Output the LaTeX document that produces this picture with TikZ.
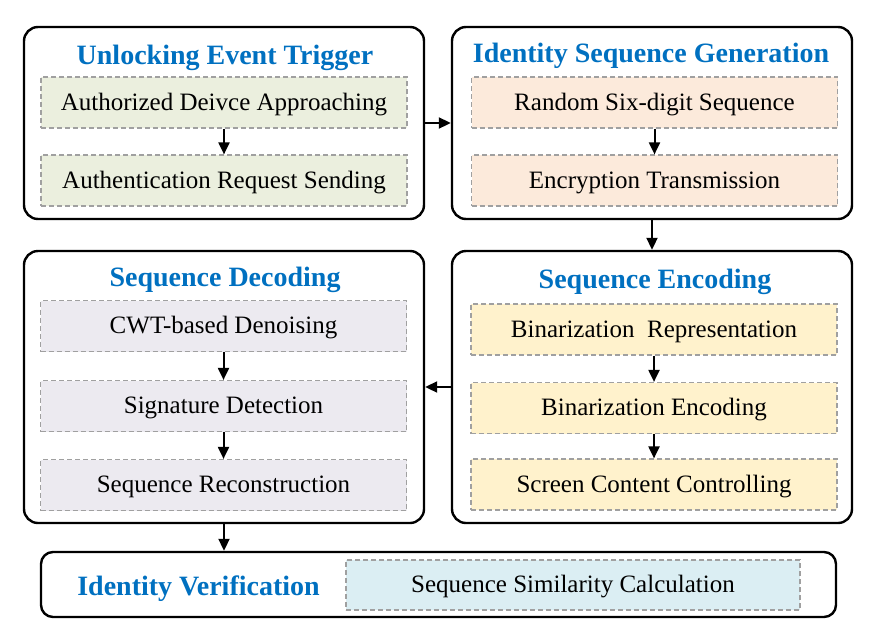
\documentclass[tikz,border=0pt]{standalone}
\usepackage{fontspec}
\setmainfont{Liberation Serif}
\usetikzlibrary{arrows.meta}
\definecolor{tblue}{RGB}{0,112,192}
\definecolor{dashgray}{RGB}{160,160,160}
\definecolor{fgreen}{RGB}{235,239,222}
\definecolor{fpeach}{RGB}{252,234,219}
\definecolor{flav}{RGB}{236,234,240}
\definecolor{fyellow}{RGB}{255,242,204}
\definecolor{fblue}{RGB}{219,238,243}
\begin{document}
\begin{tikzpicture}[x=1pt,y=-1pt,
  outer/.style={draw=black, line width=2.4pt, rounded corners=14pt, inner sep=0pt, minimum width=400pt},
  inner/.style={draw=dashgray, line width=1.2pt, dash pattern=on 5pt off 3pt, inner sep=0pt, minimum width=366pt, minimum height=51pt, text height=20pt, text depth=5pt, font=\fontsize{25}{30}\selectfont},
  ttl/.style={text=tblue, font=\fontsize{28}{32}\selectfont\bfseries, inner sep=0pt},
  arr/.style={line width=2pt, -{Triangle[length=12pt,width=11pt]}}]
\useasboundingbox (0,0) rectangle (875,640);
% outer boxes
\node[outer, minimum height=192pt] (b1) at (224,123) {};
\node[outer, minimum height=192pt] (b2) at (652,123) {};
\node[outer, minimum height=272pt] (b3) at (224,387) {};
\node[outer, minimum height=272pt] (b4) at (652,387) {};
\node[outer, rounded corners=12pt, minimum width=795pt, minimum height=65pt] (b5) at (438.5,584.5) {};
% titles
\node[ttl] (t1) at (225,57.5) {Unlocking Event Trigger};
\node[ttl] (t2) at (651,55.5) {Identity Sequence Generation};
\node[ttl] (t3) at (225,279.5) {Sequence Decoding};
\node[ttl] (t4) at (655,281.5) {Sequence Encoding};
\node[ttl] (t5) at (198.5,588.5) {Identity Verification};
% inner boxes
\node[inner, fill=fgreen] (b1a) at (224,102.5) {Authorized Deivce Approaching};
\node[inner, fill=fgreen] (b1b) at (224,180.5) {Authentication Request Sending};
\node[inner, fill=fpeach] (b2a) at (654.5,102.5) {Random Six-digit Sequence};
\node[inner, fill=fpeach] (b2b) at (654.5,180.5) {Encryption Transmission};
\node[inner, fill=fyellow] (b4a) at (654,329.5) {Binarization\ \ Representation};
\node[inner, fill=fyellow] (b4b) at (654,408) {Binarization Encoding};
\node[inner, fill=fyellow] (b4c) at (654,484.5) {Screen Content Controlling};
\node[inner, fill=flav] (b3a) at (223.5,326) {CWT-based Denoising};
\node[inner, fill=flav] (b3b) at (223.5,406) {Signature Detection};
\node[inner, fill=flav] (b3c) at (223.5,485) {Sequence Reconstruction};
\node[inner, fill=fblue, minimum width=454pt, minimum height=50pt] (b5a) at (573,585) {Sequence Similarity Calculation};
% arrows
\draw[arr] (b1a) -- (b1b);
\draw[arr] (b2a) -- (b2b);
\draw[arr] (b4a) -- (b4b);
\draw[arr] (b4b) -- (b4c);
\draw[arr] (b3a) -- (b3b);
\draw[arr] (b3b) -- (b3c);
\draw[arr] (b1.east) -- (b2.west);
\draw[arr] (b2.south) -- (b4.north);
\draw[arr] (b4.west) -- (b3.east);
\draw[arr] (b3.south) -- (b3.south |- b5.north);
\end{tikzpicture}
\end{document}
